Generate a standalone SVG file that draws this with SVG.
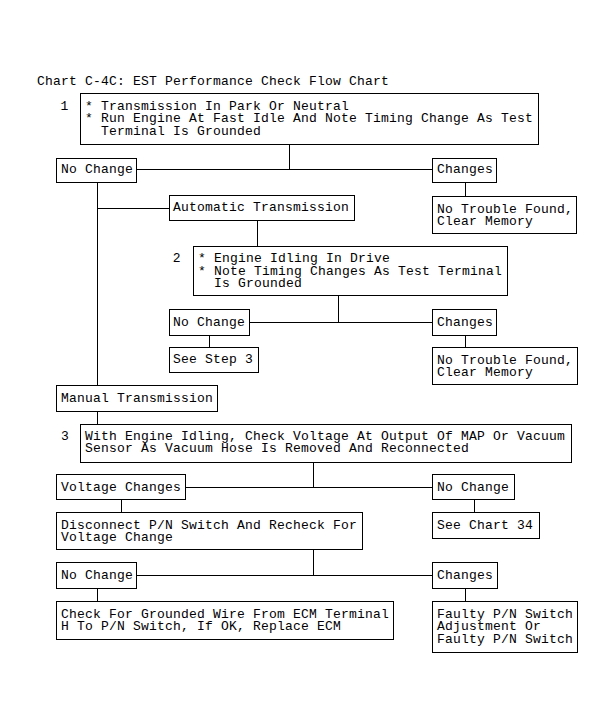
<svg xmlns="http://www.w3.org/2000/svg" width="615" height="728" viewBox="0 0 615 728">
<style>
text{font-family:"Liberation Mono","DejaVu Sans Mono",monospace;font-size:13px;letter-spacing:0.2px;fill:#000}
.box{fill:#fff;stroke:#000;stroke-width:1}
.con line{stroke:#000;stroke-width:1}
</style>
<rect width="615" height="728" fill="#fff"/>
<text x="37" y="85">Chart C-4C: EST Performance Check Flow Chart</text>
<g class="con" id="connectors">
<line x1="289.5" y1="144" x2="289.5" y2="169.5"/>
<line x1="136" y1="169.5" x2="432" y2="169.5"/>
<line x1="465.5" y1="182" x2="465.5" y2="196"/>
<line x1="97.5" y1="182" x2="97.5" y2="385"/>
<line x1="97.5" y1="208.5" x2="169" y2="208.5"/>
<line x1="257.5" y1="220" x2="257.5" y2="246"/>
<line x1="338.5" y1="295" x2="338.5" y2="322.5"/>
<line x1="249" y1="322.5" x2="432" y2="322.5"/>
<line x1="209.5" y1="335" x2="209.5" y2="347"/>
<line x1="465.5" y1="335" x2="465.5" y2="347"/>
<line x1="97.5" y1="411" x2="97.5" y2="424"/>
<line x1="313.5" y1="462" x2="313.5" y2="487.5"/>
<line x1="185" y1="487.5" x2="432" y2="487.5"/>
<line x1="121.5" y1="500" x2="121.5" y2="512"/>
<line x1="474.5" y1="500" x2="474.5" y2="512"/>
<line x1="313.5" y1="550" x2="313.5" y2="575.5"/>
<line x1="137" y1="575.5" x2="432" y2="575.5"/>
<line x1="97.5" y1="588" x2="97.5" y2="601"/>
<line x1="465.5" y1="588" x2="465.5" y2="601"/>
</g>
<g id="step1">
<text x="60.5" y="110">1</text>
<rect class="box" x="80.5" y="93.5" width="458" height="51"/>
<text x="85" y="110">* Transmission In Park Or Neutral</text>
<text x="85" y="122.3">* Run Engine At Fast Idle And Note Timing Change As Test</text>
<text x="101" y="134.5">Terminal Is Grounded</text>
</g>
<g id="nochange1"><rect class="box" x="56.5" y="158.5" width="80" height="24"/><text x="61" y="173">No Change</text></g>
<g id="changes1"><rect class="box" x="432.5" y="158.5" width="64" height="24"/><text x="437" y="173">Changes</text></g>
<g id="ntf1"><rect class="box" x="432.5" y="196.5" width="144" height="37"/><text x="437" y="213">No Trouble Found,</text><text x="437" y="225.3">Clear Memory</text></g>
<g id="auto"><rect class="box" x="169.5" y="195.5" width="185" height="25"/><text x="173" y="211">Automatic Transmission</text></g>
<g id="step2">
<text x="172.8" y="262">2</text>
<rect class="box" x="193.5" y="246.5" width="314" height="49"/>
<text x="198" y="262">* Engine Idling In Drive</text>
<text x="198" y="274.5">* Note Timing Changes As Test Terminal</text>
<text x="214" y="287">Is Grounded</text>
</g>
<g id="nochange2"><rect class="box" x="169.5" y="309.5" width="80" height="26"/><text x="173" y="326">No Change</text></g>
<g id="changes2"><rect class="box" x="432.5" y="309.5" width="64" height="26"/><text x="437" y="326">Changes</text></g>
<g id="seestep3"><rect class="box" x="169.5" y="347.5" width="89" height="25"/><text x="173" y="363">See Step 3</text></g>
<g id="ntf2"><rect class="box" x="432.5" y="347.5" width="145" height="37"/><text x="437" y="364">No Trouble Found,</text><text x="437" y="376.3">Clear Memory</text></g>
<g id="manual"><rect class="box" x="56.5" y="385.5" width="161" height="26"/><text x="61" y="402">Manual Transmission</text></g>
<g id="step3">
<text x="61" y="440">3</text>
<rect class="box" x="80.5" y="424.5" width="491" height="38"/>
<text x="85" y="440">With Engine Idling, Check Voltage At Output Of MAP Or Vacuum</text>
<text x="85" y="452.3">Sensor As Vacuum Hose Is Removed And Reconnected</text>
</g>
<g id="voltchanges"><rect class="box" x="56.5" y="474.5" width="129" height="25"/><text x="61" y="490.5">Voltage Changes</text></g>
<g id="nochange3"><rect class="box" x="432.5" y="474.5" width="82" height="25"/><text x="437" y="490.5">No Change</text></g>
<g id="disconnect"><rect class="box" x="56.5" y="512.5" width="306" height="37"/><text x="61" y="529">Disconnect P/N Switch And Recheck For</text><text x="61" y="541.3">Voltage Change</text></g>
<g id="seechart34"><rect class="box" x="432.5" y="512.5" width="107" height="26"/><text x="437" y="529">See Chart 34</text></g>
<g id="nochange4"><rect class="box" x="56.5" y="562.5" width="80" height="26"/><text x="61" y="579">No Change</text></g>
<g id="changes4"><rect class="box" x="432.5" y="562.5" width="65" height="26"/><text x="437" y="579">Changes</text></g>
<g id="checkwire"><rect class="box" x="56.5" y="601.5" width="337" height="38"/><text x="61" y="618">Check For Grounded Wire From ECM Terminal</text><text x="61" y="630.3">H To P/N Switch, If OK, Replace ECM</text></g>
<g id="faulty"><rect class="box" x="432.5" y="601.5" width="145" height="51"/><text x="437" y="618">Faulty P/N Switch</text><text x="437" y="630.3">Adjustment Or</text><text x="437" y="642.6">Faulty P/N Switch</text></g>
</svg>
